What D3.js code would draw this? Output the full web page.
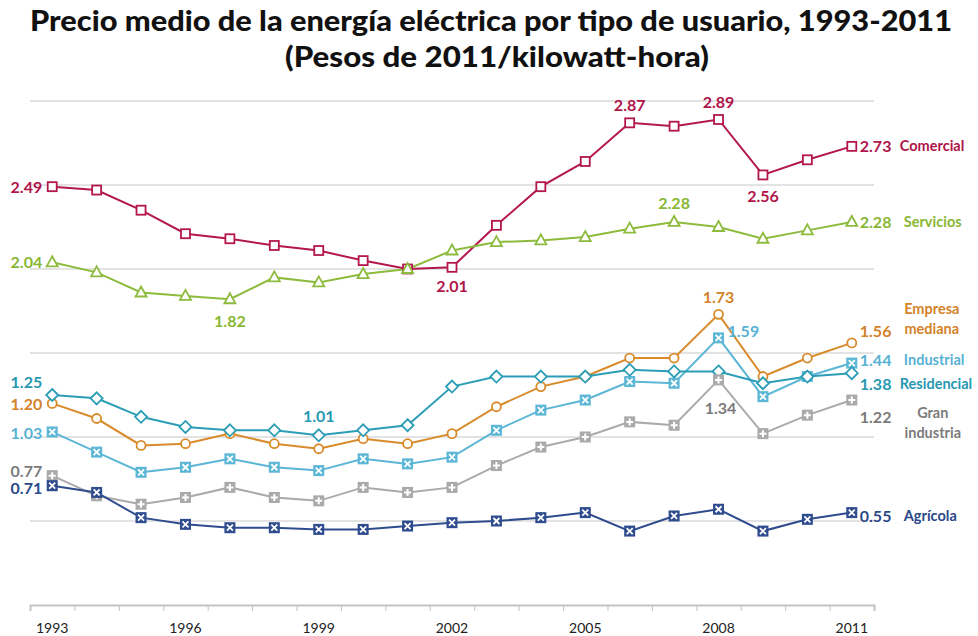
<!DOCTYPE html>
<html>
<head>
<meta charset="utf-8">
<script src="https://cdn.jsdelivr.net/npm/d3@7"></script>
<style>
  body { margin: 0; background: #fff; }
  text { font-family: Lato, "Open Sans", sans-serif; }
</style>
</head>
<body>
<script>
// Data
var years = [1993, 1994, 1995, 1996, 1997, 1998, 1999, 2000, 2001, 2002,
             2003, 2004, 2005, 2006, 2007, 2008, 2009, 2010, 2011];
var tickYears = [1993, 1996, 1999, 2002, 2005, 2008, 2011];
var gridValues = [0.5, 1, 1.5, 2, 2.5, 3];

var comercial   = [2.49, 2.47, 2.35, 2.21, 2.18, 2.14, 2.11, 2.05, 2.00, 2.01, 2.26, 2.49, 2.64, 2.87, 2.85, 2.89, 2.56, 2.65, 2.73];
var servicios   = [2.04, 1.98, 1.86, 1.84, 1.82, 1.95, 1.92, 1.97, 2.00, 2.11, 2.16, 2.17, 2.19, 2.24, 2.28, 2.25, 2.18, 2.23, 2.28];
var empresa     = [1.20, 1.11, 0.95, 0.96, 1.02, 0.96, 0.93, 0.99, 0.96, 1.02, 1.18, 1.30, 1.36, 1.47, 1.47, 1.73, 1.36, 1.47, 1.56];
var residencial = [1.25, 1.23, 1.12, 1.06, 1.04, 1.04, 1.01, 1.04, 1.07, 1.30, 1.36, 1.36, 1.36, 1.40, 1.39, 1.39, 1.32, 1.36, 1.38];
var industrial  = [1.03, 0.91, 0.79, 0.82, 0.87, 0.82, 0.80, 0.87, 0.84, 0.88, 1.04, 1.16, 1.22, 1.33, 1.32, 1.59, 1.24, 1.36, 1.44];
var granInd     = [0.77, 0.65, 0.60, 0.64, 0.70, 0.64, 0.62, 0.70, 0.67, 0.70, 0.83, 0.94, 1.00, 1.09, 1.07, 1.34, 1.02, 1.13, 1.22];
var agricola    = [0.71, 0.67, 0.52, 0.48, 0.46, 0.46, 0.45, 0.45, 0.47, 0.49, 0.50, 0.52, 0.55, 0.44, 0.53, 0.57, 0.44, 0.51, 0.55];

var series = [
  {name: ["Comercial"], values: comercial, line: "#b3174d", text: "#b0154a", marker: "square",
   startDy: 0, endDy: 0, nameDx: 48},
  {name: ["Servicios"], values: servicios, line: "#8dbb3e", text: "#88b734", marker: "triangle",
   startDy: 0, endDy: 0, nameDx: 52},
  {name: ["Empresa", "mediana"], values: empresa, line: "#d98b2c", text: "#d4832a", marker: "circle",
   startDy: 1, endDy: -12, nameDx: 80},
  {name: ["Industrial"], values: industrial, line: "#5cb6d5", text: "#58b2d3", marker: "squareX",
   startDy: 1, endDy: -3, nameDx: 52},
  {name: ["Residencial"], values: residencial, line: "#2b9db6", text: "#2898b2", marker: "diamond",
   startDy: -13, endDy: 11, nameDx: 48},
  {name: ["Gran", "industria"], values: granInd, line: "#aaaaaa", text: "#7b7b7b", marker: "squarePlus",
   startDy: -5, endDy: 17, nameDx: 81},
  {name: ["Agrícola"], values: agricola, line: "#2f4c8e", text: "#2b4889", marker: "squareX",
   startDy: 2, endDy: 3, nameDx: 52}
];

// Annotations: [series index, year, dx, dy, anchor]
var notes = [
  [0, 2006, 0, -18, "middle"],
  [0, 2008, 0, -17, "middle"],
  [0, 2009, 0, 21, "middle"],
  [0, 2002, 0, 19, "middle"],
  [1, 2007, 0, -19, "middle"],
  [1, 1997, 0, 22, "middle"],
  [4, 1999, 0, -19, "middle"],
  [2, 2008, 0, -17, "middle"],
  [3, 2008, 9, -7, "start"],
  [5, 2008, 2, 28, "middle"]
];

var width = 978;
var height = 636;

//Canvas
var svg = d3.select("body")
  .append("svg")
    .attr("width", width)
    .attr("height", height);

//Scales
var x = d3.scaleLinear()
  .domain([1992.5, 2011.5])
  .range([30, 874]);

var y = d3.scaleLinear()
  .domain([0, 3])
  .range([605, 101]);

//Title
svg.append("text")
  .attr("x", 491)
  .attr("y", 31)
  .attr("text-anchor", "middle")
  .attr("font-size", 28)
  .attr("font-weight", 900)
  .attr("fill", "#111")
  .attr("textLength", 922)
  .attr("lengthAdjust", "spacingAndGlyphs")
  .text("Precio medio de la energía eléctrica por tipo de usuario, 1993-2011");

svg.append("text")
  .attr("x", 497)
  .attr("y", 67)
  .attr("text-anchor", "middle")
  .attr("font-size", 28)
  .attr("font-weight", 900)
  .attr("fill", "#111")
  .attr("textLength", 424)
  .attr("lengthAdjust", "spacingAndGlyphs")
  .text("(Pesos de 2011/kilowatt-hora)");

//Gridlines
svg.append("g")
  .selectAll("line")
  .data(gridValues)
  .enter()
  .append("line")
    .attr("x1", x(1992.5))
    .attr("x2", x(2011.5))
    .attr("y1", d => y(d))
    .attr("y2", d => y(d))
    .attr("stroke", "#e3e3e3")
    .attr("stroke-width", 2);

//X axis
var edges = years.map(d => d - 0.5).concat([years[years.length - 1] + 0.5]);
var xAxisCall = d3.axisBottom(x)
  .tickValues(edges)
  .tickSize(6)
  .tickFormat("");

var xAxisGroup = svg.append("g")
  .attr("transform", "translate(0, " + y(0) + ")")
  .call(xAxisCall);

xAxisGroup.select(".domain")
  .attr("stroke", "#c4c4c4")
  .attr("stroke-width", 2);
xAxisGroup.selectAll(".tick line")
  .attr("stroke", "#c4c4c4")
  .attr("stroke-width", 1);

svg.append("g")
  .selectAll("text")
  .data(tickYears)
  .enter()
  .append("text")
    .attr("x", d => x(d))
    .attr("y", 633)
    .attr("text-anchor", "middle")
    .attr("font-size", 14)
    .attr("fill", "#222")
    .text(d => d);

//Lines
var line = d3.line()
  .x((d, i) => x(years[i]))
  .y(d => y(d));

svg.append("g")
  .selectAll("path")
  .data(series)
  .enter()
  .append("path")
    .attr("d", d => line(d.values))
    .attr("fill", "none")
    .attr("stroke", d => d.line)
    .attr("stroke-width", 2);

//Markers
function drawMarker(g, kind, color) {
  if (kind === "square") {
    g.append("rect")
      .attr("x", -4.5).attr("y", -4.5).attr("width", 9).attr("height", 9)
      .attr("fill", "#fff").attr("stroke", color).attr("stroke-width", 1.8);
  } else if (kind === "triangle") {
    g.append("path")
      .attr("d", "M0,-6L5.5,4L-5.5,4Z")
      .attr("fill", "#fff").attr("stroke", color).attr("stroke-width", 1.8);
  } else if (kind === "circle") {
    g.append("circle")
      .attr("r", 4.5)
      .attr("fill", "#fff").attr("stroke", color).attr("stroke-width", 1.8);
  } else if (kind === "diamond") {
    g.append("path")
      .attr("d", "M0,-6L6,0L0,6L-6,0Z")
      .attr("fill", "#fff").attr("stroke", color).attr("stroke-width", 1.8);
  } else if (kind === "squareX") {
    g.append("rect")
      .attr("x", -5.5).attr("y", -5.5).attr("width", 11).attr("height", 11)
      .attr("fill", color);
    g.append("path")
      .attr("d", "M-3,-3L3,3M3,-3L-3,3")
      .attr("stroke", "#fff").attr("stroke-width", 1.8);
  } else if (kind === "squarePlus") {
    g.append("rect")
      .attr("x", -5.5).attr("y", -5.5).attr("width", 11).attr("height", 11)
      .attr("fill", color);
    g.append("path")
      .attr("d", "M0,-3.5L0,3.5M-3.5,0L3.5,0")
      .attr("stroke", "#fff").attr("stroke-width", 2);
  }
}

series.forEach(s => {
  var mg = svg.append("g");
  s.values.forEach((v, i) => {
    var m = mg.append("g")
      .attr("transform", "translate(" + x(years[i]) + "," + y(v) + ")");
    drawMarker(m, s.marker, s.line);
  });
});

//Labels
var fmt = d3.format(".2f");
var labels = svg.append("g")
  .attr("font-size", 16)
  .attr("font-weight", 700);

series.forEach(s => {
  var first = s.values[0];
  var last = s.values[s.values.length - 1];

  labels.append("text")
    .attr("x", x(years[0]) - 10)
    .attr("y", y(first) + s.startDy + 6)
    .attr("text-anchor", "end")
    .attr("fill", s.text)
    .text(fmt(first));

  labels.append("text")
    .attr("x", x(years[years.length - 1]) + 8)
    .attr("y", y(last) + s.endDy + 6)
    .attr("fill", s.text)
    .text(fmt(last));

  var nameX = x(years[years.length - 1]) + s.nameDx;
  if (s.name.length === 1) {
    labels.append("text")
      .attr("x", nameX)
      .attr("y", y(last) + s.endDy + 5)
      .attr("font-size", 14.5)
      .attr("fill", s.text)
      .text(s.name[0]);
  } else {
    var top = s.marker === "circle" ? y(last) - 29 : y(last) + 18;
    s.name.forEach((n, j) => {
      labels.append("text")
        .attr("x", nameX)
        .attr("y", top + j * 20)
        .attr("text-anchor", "middle")
        .attr("font-size", 14.5)
        .attr("fill", s.text)
        .text(n);
    });
  }
});

notes.forEach(n => {
  var s = series[n[0]];
  var v = s.values[years.indexOf(n[1])];
  labels.append("text")
    .attr("x", x(n[1]) + n[2])
    .attr("y", y(v) + n[3] + 6)
    .attr("text-anchor", n[4])
    .attr("fill", s.text)
    .text(fmt(v));
});
</script>
</body>
</html>
